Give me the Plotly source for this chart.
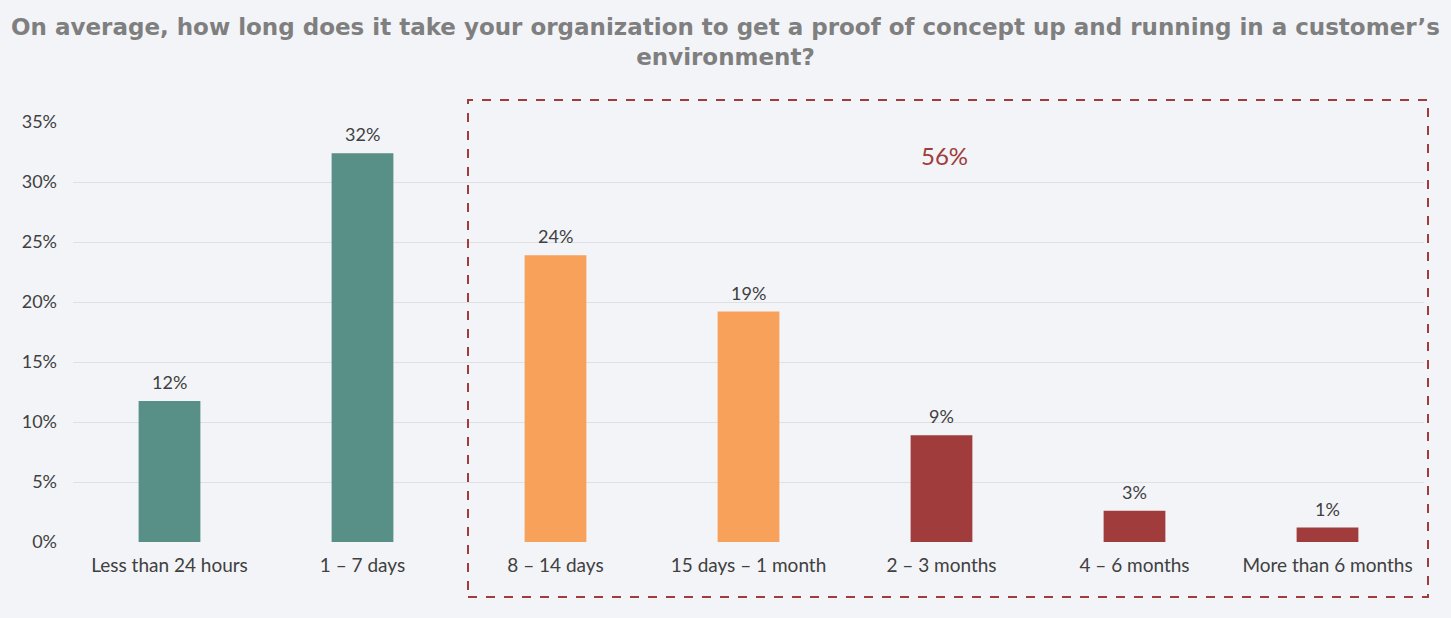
import plotly.graph_objects as go

categories = ["Less than 24 hours", "1 – 7 days", "8 – 14 days", "15 days – 1 month",
              "2 – 3 months", "4 – 6 months", "More than 6 months"]
values = [11.75, 32.4, 23.9, 19.2, 8.9, 2.6, 1.2]
labels = ["12%", "32%", "24%", "19%", "9%", "3%", "1%"]
bar_colors = ["#588f87", "#588f87", "#f8a15a", "#f8a15a", "#a03c3c", "#a03c3c", "#a03c3c"]
y_ticks = [0, 5, 10, 15, 20, 25, 30, 35]
y_tick_labels = ["0%", "5%", "10%", "15%", "20%", "25%", "30%", "35%"]
group_total = "56%"

FONT = "Lato"
TXT = "#404040"
fig = go.Figure(go.Bar(
    x=categories, y=values, marker_color=bar_colors, marker_line_width=0,
))

W, H = 1451, 618
L, R, T, B = 73, 27, 122, 76
pw, ph = W - L - R, H - T - B

def px(x): return (x - L) / pw
def py(y): return (H - B - y) / ph

annotations = [dict(text=t, x=c, y=v, xref="x", yref="y", showarrow=False,
                    xanchor="center", yanchor="bottom", yshift=6,
                    font=dict(family=FONT, size=18, color=TXT))
               for c, v, t in zip(categories, values, labels)]
annotations.append(dict(text=group_total, xref="paper", yref="paper", x=px(945), y=py(155),
                        showarrow=False, xanchor="center", yanchor="middle",
                        font=dict(family=FONT, size=24, color="#a03c3c")))

fig.update_layout(
    width=W, height=H,
    margin=dict(l=L, r=R, t=T, b=B),
    paper_bgcolor="#f3f4f8", plot_bgcolor="#f3f4f8",
    bargap=0.68, showlegend=False,
    title=dict(
        text="On average, how long does it take your organization to get a proof of concept up and running in a customer’s<br>environment?",
        x=0.5, xanchor="center", y=1 - 35 / H, yanchor="middle",
        font=dict(family="DejaVu Sans", size=23, color="#7f7f7f", weight="bold"),
    ),
    xaxis=dict(showgrid=False, showline=False, ticks="", zeroline=False,
               ticklabelstandoff=10,
               tickfont=dict(family=FONT, size=19, color=TXT)),
    yaxis=dict(range=[0, 35], tickvals=y_ticks, ticktext=y_tick_labels,
               showgrid=True, gridcolor="#dfe0e4", gridwidth=1, zeroline=False,
               showline=False, ticks="", ticklabelstandoff=15,
               tickfont=dict(family=FONT, size=18, color=TXT)),
    shapes=[dict(type="rect", xref="paper", yref="paper",
                 x0=px(468), x1=px(1428), y0=py(597), y1=py(100),
                 line=dict(color="#a03c3c", width=2, dash="dash"), fillcolor="rgba(0,0,0,0)")],
    annotations=annotations,
)
fig.write_html("out.html")
